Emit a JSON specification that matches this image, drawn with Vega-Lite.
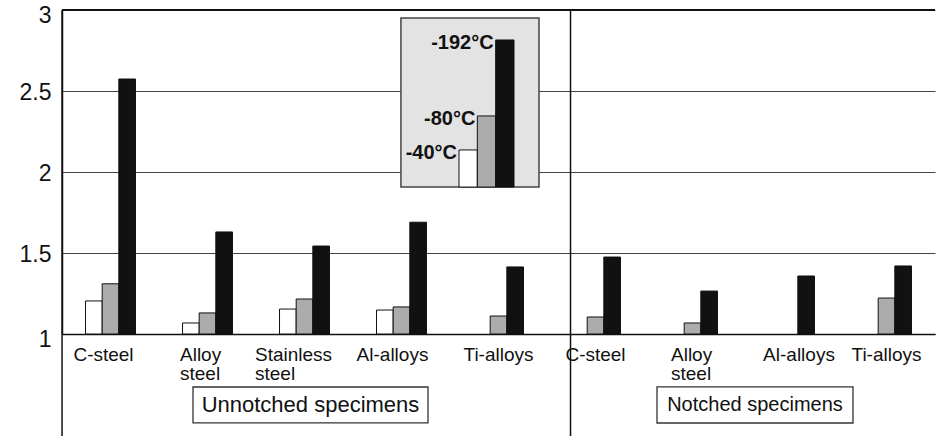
{
  "$schema": "https://vega.github.io/schema/vega-lite/v6.json",
  "width": 873,
  "height": 324,
  "autosize": "none",
  "padding": {"left": 62, "top": 10, "right": 3, "bottom": 102},
  "background": "white",
  "config": {"view": {"stroke": null}, "font": "Liberation Sans"},
  "datasets": {
    "bars": [
      {"key": "Unnotched|C-steel", "temp": "-40°C", "value": 1.204},
      {"key": "Unnotched|C-steel", "temp": "-80°C", "value": 1.31},
      {"key": "Unnotched|C-steel", "temp": "-192°C", "value": 2.574},
      {"key": "Unnotched|Alloy steel", "temp": "-40°C", "value": 1.068},
      {"key": "Unnotched|Alloy steel", "temp": "-80°C", "value": 1.13},
      {"key": "Unnotched|Alloy steel", "temp": "-192°C", "value": 1.63},
      {"key": "Unnotched|Stainless steel", "temp": "-40°C", "value": 1.154},
      {"key": "Unnotched|Stainless steel", "temp": "-80°C", "value": 1.216},
      {"key": "Unnotched|Stainless steel", "temp": "-192°C", "value": 1.543},
      {"key": "Unnotched|Al-alloys", "temp": "-40°C", "value": 1.148},
      {"key": "Unnotched|Al-alloys", "temp": "-80°C", "value": 1.167},
      {"key": "Unnotched|Al-alloys", "temp": "-192°C", "value": 1.69},
      {"key": "Unnotched|Ti-alloys", "temp": "-80°C", "value": 1.111},
      {"key": "Unnotched|Ti-alloys", "temp": "-192°C", "value": 1.414},
      {"key": "Notched|C-steel", "temp": "-80°C", "value": 1.105},
      {"key": "Notched|C-steel", "temp": "-192°C", "value": 1.475},
      {"key": "Notched|Alloy steel", "temp": "-80°C", "value": 1.068},
      {"key": "Notched|Alloy steel", "temp": "-192°C", "value": 1.265},
      {"key": "Notched|Al-alloys", "temp": "-192°C", "value": 1.358},
      {"key": "Notched|Ti-alloys", "temp": "-80°C", "value": 1.222},
      {"key": "Notched|Ti-alloys", "temp": "-192°C", "value": 1.42}
    ],
    "legend": [
      {"temp": "-40°C", "h": 2.136},
      {"temp": "-80°C", "h": 2.346},
      {"temp": "-192°C", "h": 2.815}
    ]
  },
  "layer": [
    {
      "layer": [
        {
          "data": {"name": "bars"},
          "mark": {"type": "bar", "stroke": "#111", "strokeWidth": 1},
          "encoding": {
            "x": {
              "field": "key", "type": "nominal", "title": null, "sort": null,
              "scale": {
                "domain": ["Unnotched|C-steel", "Unnotched|Alloy steel", "Unnotched|Stainless steel", "Unnotched|Al-alloys", "Unnotched|Ti-alloys", "Notched|C-steel", "Notched|Alloy steel", "Notched|Al-alloys", "Notched|Ti-alloys"],
                "paddingInner": 0.485, "paddingOuter": 0.2425
              },
              "axis": {
                "labelExpr": "split(split(datum.value, '|')[1], ' ')",
                "labelFontSize": 19, "labelColor": "#111", "labelPadding": 11, "labelLineHeight": 19.5,
                "labelAngle": 0, "ticks": false, "grid": false, "domainColor": "#111", "domainWidth": 1.5,
                "labelOverlap": false, "labelBound": false,
                "labelAlign": {"condition": {"test": "indexof(datum.value, ' ') > 0", "value": "left"}, "value": "center"},
                "labelOffset": {"condition": [
                  {"test": "datum.value == 'Unnotched|Alloy steel'", "value": -27.5},
                  {"test": "datum.value == 'Unnotched|Stainless steel'", "value": -49.5},
                  {"test": "datum.value == 'Notched|Alloy steel'", "value": -21.5},
                  {"test": "datum.value == 'Unnotched|C-steel'", "value": -7},
                  {"test": "datum.value == 'Unnotched|Al-alloys'", "value": -9},
                  {"test": "datum.value == 'Notched|Al-alloys'", "value": 9.5}
                ], "value": 0}
              }
            },
            "xOffset": {"field": "temp", "type": "nominal", "sort": null, "scale": {"domain": ["-40°C", "-80°C", "-192°C"], "paddingInner": 0, "paddingOuter": 0}},
            "y": {
              "field": "value", "type": "quantitative", "title": null,
              "scale": {"domain": [1, 3], "zero": false, "nice": false},
              "axis": {
                "values": [1, 1.5, 2, 2.5, 3], "format": "~g", "grid": true, "gridColor": "#444", "gridWidth": 1,
                "ticks": false, "domainColor": "#111", "domainWidth": 1.5, "labelFontSize": 23, "labelColor": "#111",
                "labelPadding": 11,
                "labelOffset": {"condition": {"test": "datum.value == 3 || datum.value == 1", "value": 5}, "value": 1}
              }
            },
            "y2": {"datum": 1},
            "color": {"field": "temp", "type": "nominal", "scale": {"domain": ["-40°C", "-80°C", "-192°C"], "range": ["#ffffff", "#acacac", "#111111"]}, "legend": null}
          }
        },
        {
          "data": {"values": [{}]},
          "mark": {"type": "rule", "color": "#111", "strokeWidth": 2},
          "encoding": {"y": {"datum": 3, "type": "quantitative"}}
        },
        {
          "data": {"values": [{}]},
          "mark": {"type": "rule", "color": "#111", "strokeWidth": 1.5},
          "encoding": {
            "x": {"datum": "Unnotched|C-steel", "type": "nominal", "bandPosition": -0.47},
            "y": {"datum": 3, "type": "quantitative"},
            "y2": {"datum": 0.35}
          }
        },
        {
          "data": {"values": [{}]},
          "mark": {"type": "rule", "color": "#111", "strokeWidth": 1.5},
          "encoding": {
            "x": {"datum": "Notched|C-steel", "type": "nominal", "bandPosition": 0},
            "y": {"datum": 3, "type": "quantitative"},
            "y2": {"datum": 0.35}
          }
        },
        {
          "data": {"values": [{"label": "Unnotched specimens"}]},
          "layer": [
            {
              "mark": {"type": "point", "shape": "M-1,-0.153L1,-0.153L1,0.153L-1,0.153Z", "size": 55225, "filled": true, "fill": "white", "stroke": "#333", "strokeWidth": 1.3, "opacity": 1, "xOffset": 6},
              "encoding": {"x": {"datum": "Unnotched|Stainless steel", "type": "nominal"}, "y": {"datum": 0.562, "type": "quantitative"}}
            },
            {
              "mark": {"type": "text", "fontSize": 22, "color": "#111", "baseline": "middle", "align": "center", "xOffset": 6},
              "encoding": {"x": {"datum": "Unnotched|Stainless steel", "type": "nominal"}, "y": {"datum": 0.562, "type": "quantitative"}, "text": {"field": "label"}}
            }
          ]
        },
        {
          "data": {"values": [{"label": "Notched specimens"}]},
          "layer": [
            {
              "mark": {"type": "point", "shape": "M-1,-0.184L1,-0.184L1,0.184L-1,0.184Z", "size": 38416, "filled": true, "fill": "white", "stroke": "#333", "strokeWidth": 1.3, "opacity": 1, "xOffset": -34.5},
              "encoding": {"x": {"datum": "Notched|Al-alloys", "type": "nominal"}, "y": {"datum": 0.562, "type": "quantitative"}}
            },
            {
              "mark": {"type": "text", "fontSize": 20, "color": "#111", "baseline": "middle", "align": "center", "xOffset": -34.5},
              "encoding": {"x": {"datum": "Notched|Al-alloys", "type": "nominal"}, "y": {"datum": 0.562, "type": "quantitative"}, "text": {"field": "label"}}
            }
          ]
        }
      ]
    },
    {
      "layer": [
        {
          "data": {"values": [{}]},
          "mark": {"type": "point", "shape": "M-0.817,-1L0.817,-1L0.817,1L-0.817,1Z", "size": 28561, "filled": true, "fill": "#e3e3e3", "stroke": "#444", "strokeWidth": 1.5, "opacity": 1, "xOffset": 1.8},
          "encoding": {
            "x": {"datum": "-40°C", "type": "nominal", "axis": null, "scale": {"domain": ["-40°C", "-80°C", "-192°C"], "range": [397, 452], "paddingInner": 0, "paddingOuter": 0}},
            "y": {"datum": 2.429, "type": "quantitative"}
          }
        },
        {
          "data": {"name": "legend"},
          "mark": {"type": "bar", "stroke": "#111", "strokeWidth": 1},
          "encoding": {
            "x": {"field": "temp", "type": "nominal", "sort": null, "axis": null, "scale": {"domain": ["-40°C", "-80°C", "-192°C"], "range": [397, 452], "paddingInner": 0, "paddingOuter": 0}},
            "y": {"field": "h", "type": "quantitative", "title": null},
            "y2": {"datum": 1.907},
            "color": {"field": "temp", "type": "nominal", "legend": null}
          }
        },
        {
          "data": {"name": "legend"},
          "mark": {"type": "text", "align": "right", "baseline": "alphabetic", "dx": -2, "dy": 9, "fontSize": 20, "fontWeight": "bold", "color": "#111"},
          "encoding": {
            "x": {"field": "temp", "type": "nominal", "sort": null, "bandPosition": 0, "axis": null},
            "y": {"field": "h", "type": "quantitative", "title": null},
            "text": {"field": "temp"}
          }
        }
      ]
    }
  ],
  "resolve": {"scale": {"x": "independent"}}
}
